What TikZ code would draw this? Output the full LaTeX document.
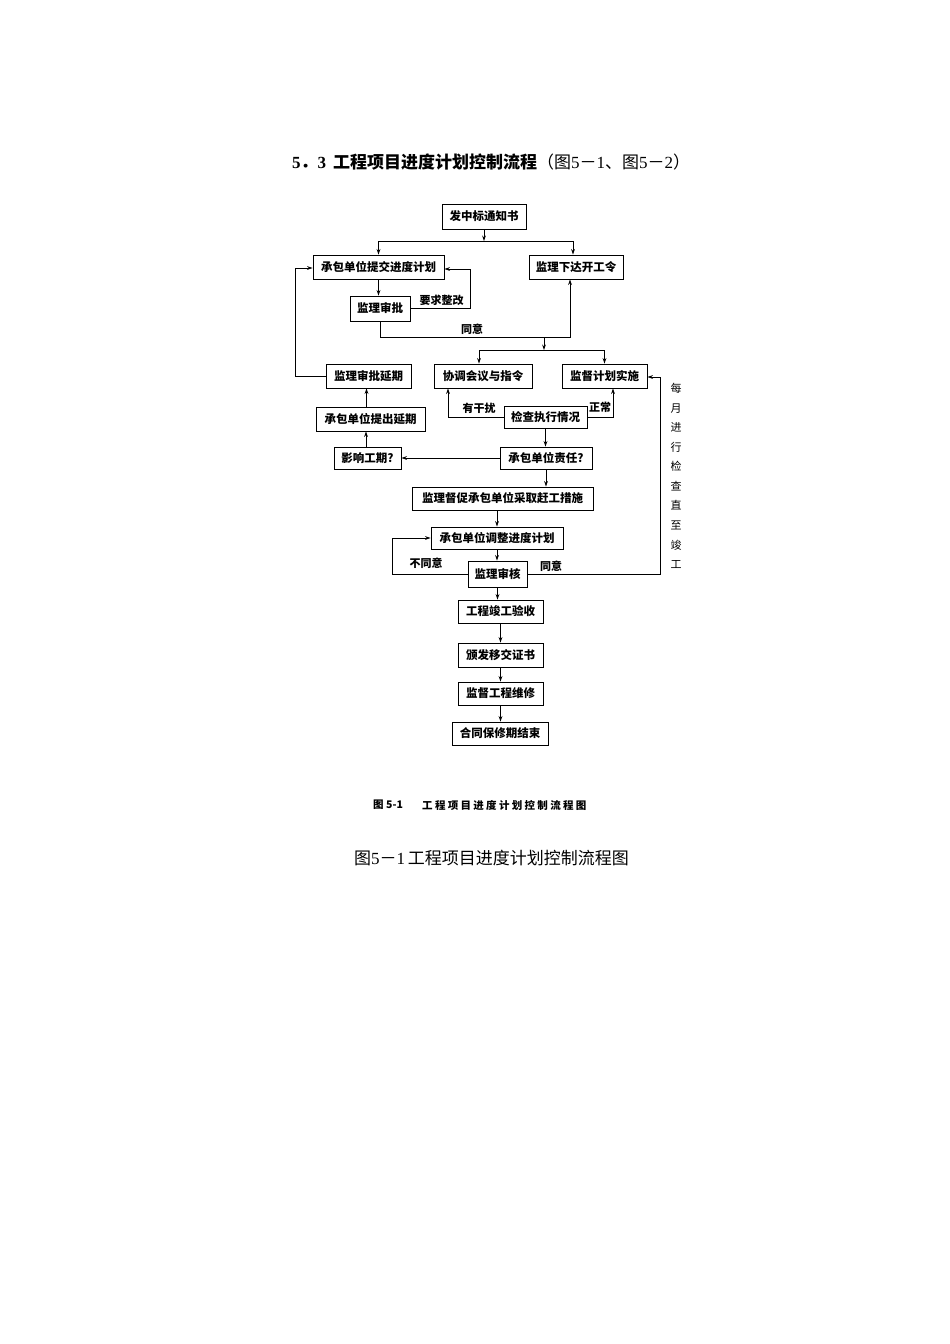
\documentclass[tikz,border=0pt]{standalone}
\usepackage{fontspec}
\usetikzlibrary{arrows.meta}
\newfontfamily\cjk{Noto Sans CJK SC}
\newfontfamily\lser{Liberation Serif}
\newfontfamily\cjkcap[LetterSpace=22]{Noto Sans CJK SC}
\tikzset{
  box/.style={draw, line width=0.9pt, inner sep=0pt, font=\cjk\bfseries\fontsize{11.5}{12}\selectfont},
  lbl/.style={inner sep=0pt, font=\cjk\bfseries\fontsize{11}{12}\selectfont},
  arr/.style={line width=0.9pt, -{Stealth[length=5.5pt,width=3.8pt]}},
  ln/.style={line width=0.9pt}
}
\begin{document}
\begin{tikzpicture}[x=1pt,y=-1pt]
\path[use as bounding box, fill=white] (0,0) rectangle (950,1344);

% title
\node[anchor=west, inner sep=0pt, font=\cjk\fontsize{17}{18}\selectfont] (title) at (292,162)
  {\bfseries{\lser 5}．{\lser 3}\hspace{7pt}工程项目进度计划控制流程\mdseries （图{\lser 5}－{\lser 1}、图{\lser 5}－{\lser 2}）};

% boxes
\node[box, minimum width=84pt,  minimum height=25pt] (n1)  at (484,216.5) {发中标通知书};
\node[box, minimum width=131pt, minimum height=24pt] (n2)  at (378.5,267) {承包单位提交进度计划};
\node[box, minimum width=94pt,  minimum height=24pt] (n3)  at (576,267) {监理下达开工令};
\node[box, minimum width=60pt,  minimum height=25pt] (n4)  at (380,308.5) {监理审批};
\node[box, minimum width=85pt,  minimum height=24pt] (n5)  at (368.5,376) {监理审批延期};
\node[box, minimum width=98pt,  minimum height=24pt] (n6)  at (483,376) {协调会议与指令};
\node[box, minimum width=85pt,  minimum height=24pt] (n7)  at (604.5,376) {监督计划实施};
\node[box, minimum width=109pt, minimum height=24pt] (n8)  at (370.5,419) {承包单位提出延期};
\node[box, minimum width=83pt,  minimum height=22pt] (n9)  at (545.5,417) {检查执行情况};
\node[box, minimum width=67pt,  minimum height=22pt] (n10) at (367.5,458) {影响工期?};
\node[box, minimum width=92pt,  minimum height=22pt] (n11) at (546,458) {承包单位责任?};
\node[box, minimum width=181pt, minimum height=23pt] (n12) at (502.5,498.5) {监理督促承包单位采取赶工措施};
\node[box, minimum width=132pt, minimum height=22pt] (n13) at (497,538) {承包单位调整进度计划};
\node[box, minimum width=59pt,  minimum height=26pt] (n14) at (497.5,574) {监理审核};
\node[box, minimum width=85pt,  minimum height=23pt] (n15) at (500.5,611.5) {工程竣工验收};
\node[box, minimum width=85pt,  minimum height=24pt] (n16) at (500.5,655) {颁发移交证书};
\node[box, minimum width=85pt,  minimum height=23pt] (n17) at (500.5,693.5) {监督工程维修};
\node[box, minimum width=96pt,  minimum height=23pt] (n18) at (500,733.5) {合同保修期结束};

% connectors
\coordinate (s1) at (484,241);
\draw[arr] (n1.south) -- (s1);
\draw[arr] (s1) -| (n2.north);
\draw[arr] (s1) -| ([xshift=-3pt]n3.north);

\draw[arr] (n2.south) -- (n2.south |- n4.north);
\coordinate (r1) at (470,308.5);
\draw[arr] (n4.east) -- (r1) |- ([yshift=-2pt]n2.east);
\node[lbl] (l1) at (441.5,300) {要求整改};

\coordinate (a1) at (380,337);
\coordinate (a2) at (570,337);
\draw[arr] (n4.south) -- (a1) -- (a2) -- (a2 |- n3.south);
\node[lbl] (l2) at (472,329) {同意};
\coordinate (j2) at (544,337);
\coordinate (s2) at (544,350);
\draw[arr] (j2) -- (s2);
\draw[arr] (s2) -| ([xshift=-4pt]n6.north);
\draw[arr] (s2) -| (n7.north);

\coordinate (c5) at (295,376);
\draw[arr] (n5.west) -- (c5) |- ([yshift=-1pt]n2.west);

\draw[arr] ([xshift=-4pt]n8.north) -- ([xshift=-4pt]n8.north |- n5.south);
\draw[arr] ([xshift=-1.5pt]n10.north) -- ([xshift=-1.5pt]n10.north |- n8.south);

\coordinate (c9l) at (448,417);
\draw[arr] (n9.west) -- (c9l) -- (c9l |- n6.south);
\node[lbl] (l3) at (479,408) {有干扰};
\coordinate (c9r) at (613,417);
\draw[arr] (n9.east) -- (c9r) -- (c9r |- n7.south);
\node[lbl] (l4) at (600,407) {正常};

\draw[arr] (n9.south) -- (n9.south |- n11.north);
\draw[arr] (n11.west) -- (n11.west -| n10.east);
\draw[arr] (n11.south) -- (n11.south |- n12.north);
\draw[arr] (n13.north |- n12.south) -- (n13.north);
\draw[arr] (n13.south) -- (n13.south |- n14.north);

\coordinate (c14l) at (392,574);
\draw[arr] (n14.west) -- (c14l) |- (n13.west);
\node[lbl] (l5) at (426,563) {不同意};
\coordinate (c14r) at (660,574);
\draw[arr] (n14.east) -- (c14r) |- ([yshift=-1pt]n7.east);
\node[lbl] (l6) at (551,566) {同意};

\node[inner sep=0pt, align=center, font=\cjk\fontsize{11}{19.55}\selectfont] (vt) at (676,476)
  {每\\月\\进\\行\\检\\查\\直\\至\\竣\\工};

\draw[arr] (n14.south) -- (n14.south |- n15.north);
\draw[arr] (n15.south) -- (n16.north);
\draw[arr] (n16.south) -- (n17.north);
\draw[arr] (n17.south) -- (n17.south |- n18.north);

% captions
\node[anchor=west, inner sep=0pt, font=\cjk\bfseries\fontsize{10.5}{12}\selectfont] (cap1a) at (373,805) {图 5-1};
\node[anchor=west, inner sep=0pt, font=\cjkcap\bfseries\fontsize{10.5}{12}\selectfont] (cap1b) at (422,805) {工程项目进度计划控制流程图};
\node[inner sep=0pt, font=\cjk\fontsize{17}{18}\selectfont] (cap2) at (491.5,858) {图{\lser 5}－{\lser 1}\,工程项目进度计划控制流程图};
\end{tikzpicture}
\end{document}
